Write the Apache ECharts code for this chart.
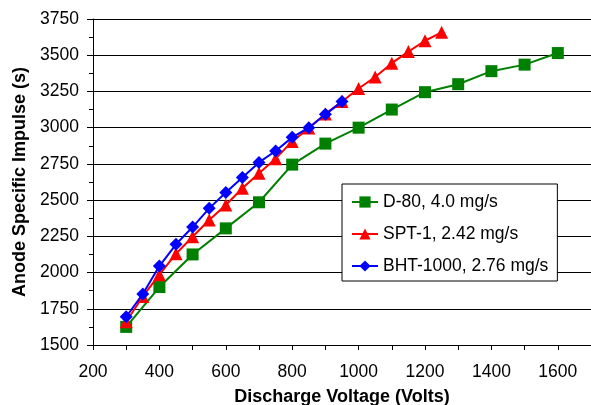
<!DOCTYPE html>
<html>
<head>
<meta charset="utf-8">
<script src="https://cdn.jsdelivr.net/npm/echarts@6/dist/echarts.min.js"></script>
<style>html,body{margin:0;padding:0;background:#fff}#c{width:591px;height:405px}</style>
</head>
<body>
<div id="c"></div>
<script>
const d80Volts = [300,400,500,600,700,800,900,1000,1100,1200,1300,1400,1500,1600];
const d80Isp   = [1625,1900,2125,2305,2485,2745,2890,3000,3125,3245,3300,3390,3435,3515];
const spt1Volts = [300,350,400,450,500,550,600,650,700,750,800,850,900,950,1000,1050,1100,1150,1200,1250];
const spt1Isp   = [1660,1835,1985,2130,2247,2363,2466,2582,2685,2786,2905,2997,3095,3180,3270,3350,3445,3525,3600,3658];
const bhtVolts = [300,350,400,450,500,550,600,650,700,750,800,850,900,950];
const bhtIsp   = [1695,1852,2045,2195,2314,2443,2552,2656,2760,2839,2933,3000,3092,3180];
const seriesNames = ['D-80, 4.0 mg/s','SPT-1, 2.42 mg/s','BHT-1000, 2.76 mg/s'];
const xTitle = 'Discharge Voltage (Volts)';
const yTitle = 'Anode Specific Impulse (s)';

const pairs = (xs, ys) => xs.map((x, i) => [x, ys[i]]);
const FONT = "'Liberation Sans', Arial, sans-serif";

const chart = echarts.init(document.getElementById('c'), null, {renderer: 'canvas'});
chart.setOption({
  animation: false,
  backgroundColor: '#fff',
  textStyle: {fontFamily: FONT, color: '#000'},
  grid: {left: 93, right: 0, top: 19, bottom: 60, containLabel: false, outerBoundsMode: 'none'},
  legend: {
    orient: 'vertical',
    left: 342, top: 184,
    padding: [9, 9, 6, 9],
    itemGap: 14,
    itemWidth: 26, itemHeight: 14,
    backgroundColor: '#fff',
    borderColor: '#000', borderWidth: 1,
    textStyle: {fontFamily: FONT, fontSize: 17.5, color: '#000', lineHeight: 18, padding: [0,0,0,0]},
    data: seriesNames
  },
  xAxis: {
    type: 'value', min: 200, max: 1700, interval: 100,
    name: xTitle, nameLocation: 'middle', nameGap: 43, nameMoveOverlap: false,
    nameTextStyle: {fontFamily: FONT, fontSize: 18, fontWeight: 'bold', color: '#000', lineHeight: 18},
    axisLine: {show: true, lineStyle: {color: '#000', width: 1}},
    axisTick: {show: true, inside: false, length: 5, lineStyle: {color: '#000'}},
    axisLabel: {fontFamily: FONT, fontSize: 17.5, color: '#000', margin: 18, hideOverlap: false,
      formatter: v => (v % 200 === 0 && v < 1700) ? String(v) : ''},
    splitLine: {show: false}
  },
  yAxis: {
    type: 'value', min: 1500, max: 3750, interval: 250,
    name: yTitle, nameLocation: 'middle', nameGap: 64, nameRotate: 90, nameMoveOverlap: false,
    nameTextStyle: {fontFamily: FONT, fontSize: 18, fontWeight: 'bold', color: '#000', lineHeight: 18},
    axisLine: {show: true, lineStyle: {color: '#000', width: 1}},
    axisTick: {show: true, inside: false, length: 6, lineStyle: {color: '#000'}},
    minorTick: {show: true, splitNumber: 2, length: 4, lineStyle: {color: '#000'}},
    axisLabel: {fontFamily: FONT, fontSize: 17.5, color: '#000', margin: 14, formatter: v => String(v)},
    splitLine: {show: true, lineStyle: {color: '#000', width: 1}}
  },
  series: [
    {name: seriesNames[0], type: 'line', data: pairs(d80Volts, d80Isp),
     symbol: 'rect', symbolSize: 12, color: '#008000',
     lineStyle: {color: '#008000', width: 2}, itemStyle: {color: '#008000'}, z: 2},
    {name: seriesNames[1], type: 'line', data: pairs(spt1Volts, spt1Isp),
     symbol: 'triangle', symbolSize: 13, color: '#ff0000',
     lineStyle: {color: '#ff0000', width: 2}, itemStyle: {color: '#ff0000'}, z: 3},
    {name: seriesNames[2], type: 'line', data: pairs(bhtVolts, bhtIsp),
     symbol: 'diamond', symbolSize: 13, color: '#0000ff',
     lineStyle: {color: '#0000ff', width: 2}, itemStyle: {color: '#0000ff'}, z: 4}
  ]
});
</script>
</body>
</html>
